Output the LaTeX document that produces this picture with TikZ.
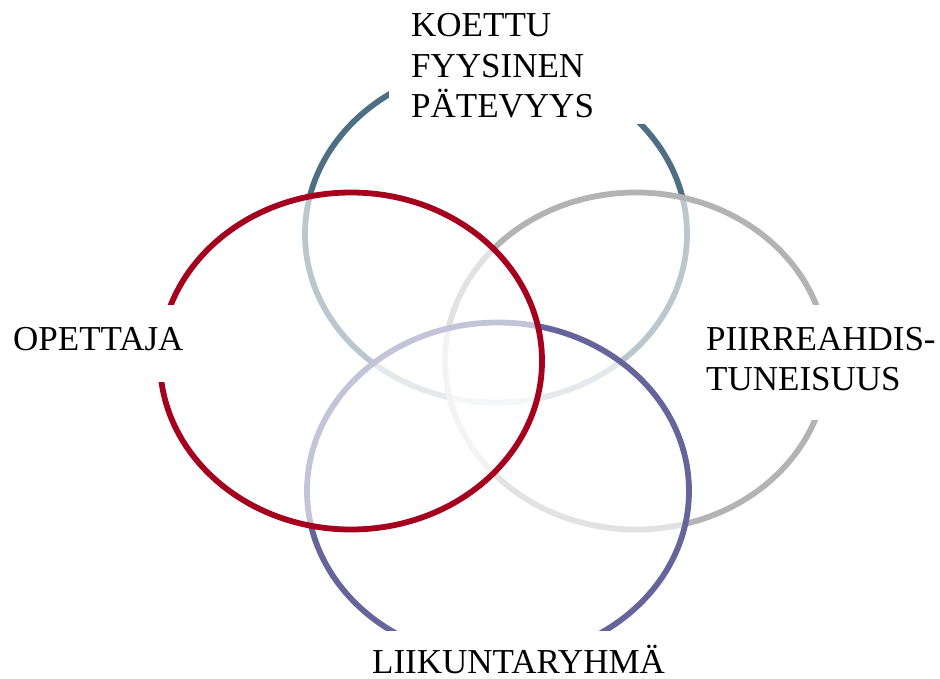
\documentclass[tikz,border=0pt]{standalone}
\usepackage{fontspec}
\setmainfont{Liberation Serif}
\definecolor{cteal}{HTML}{4E6E83}
\definecolor{cred}{HTML}{A6001F}
\definecolor{cgray}{HTML}{B3B3B3}
\definecolor{cpurple}{HTML}{65659B}
\tikzset{
  ring/.style={line width=5.8pt, fill=white, fill opacity=0.62},
  gapbox/.style={fill=white},
  lbl/.style={inner sep=0pt, anchor=base west, font=\fontsize{35}{41}\selectfont, text=black}
}
\begin{document}
\begin{tikzpicture}[x=1pt,y=-1pt]
\useasboundingbox (0,0) rectangle (940,679);
% rings (drawing order matters: later fills fade earlier strokes)
\draw[ring, draw=cteal]   (496,234) ellipse [x radius=191pt, y radius=168.5pt];
\draw[ring, draw=cgray]   (636,361) ellipse [x radius=191pt, y radius=168.5pt];
\draw[ring, draw=cpurple] (498,491) ellipse [x radius=191pt, y radius=168.5pt];
\draw[ring, draw=cred]    (351,361) ellipse [x radius=191pt, y radius=168.5pt];
% white label backgrounds
\fill[gapbox] (389,-2) rectangle (700,124);
\fill[gapbox] (-2,305) rectangle (195,382);
\fill[gapbox] (700,305) rectangle (942,420);
\fill[gapbox] (370,631) rectangle (690,681);
% labels
\node[lbl] (k1) at (411,37) {KOETTU};
\node[lbl] (k2) at (411,78) {FYYSINEN};
\node[lbl] (k3) at (411,118) {PÄTEVYYS};
\node[lbl] (op) at (13,350) {OPETTAJA};
\node[lbl] (p1) at (706,350) {PIIRREAHDIS-};
\node[lbl] (p2) at (706,390) {TUNEISUUS};
\node[lbl] (li) at (372,673) {LIIKUNTARYHMÄ};
\end{tikzpicture}
\end{document}
